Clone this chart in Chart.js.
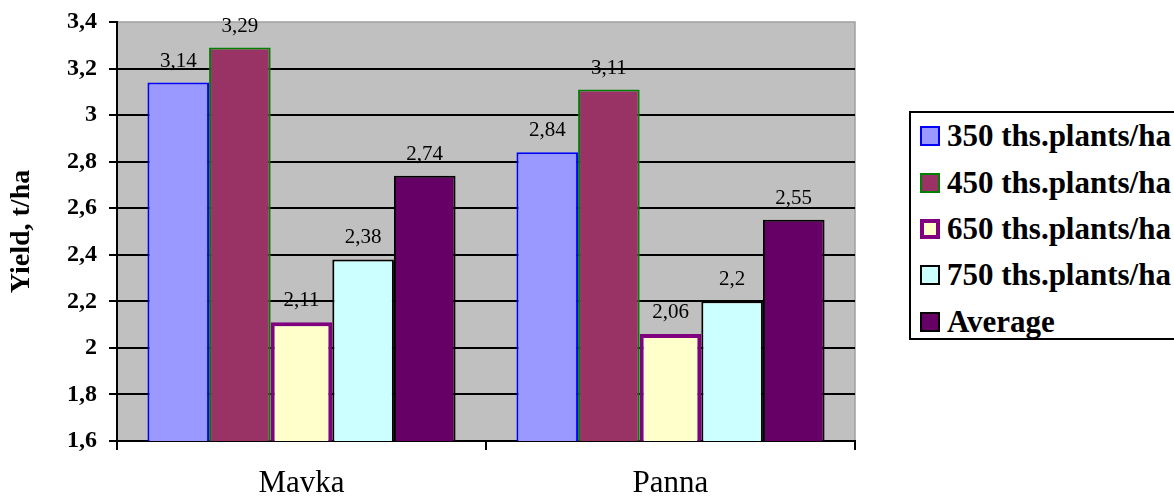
<!DOCTYPE html>
<html>
<head>
<meta charset="utf-8">
<script src="https://cdn.jsdelivr.net/npm/chart.js@4.4.1/dist/chart.umd.min.js"></script>
<style>
  html, body { margin: 0; padding: 0; background: #fff; overflow: hidden; }
  #wrap { position: relative; width: 1174px; height: 502px; }
  #legend {
    position: absolute; left: 909px; top: 111px; width: 300px; height: 229px;
    box-sizing: border-box; border: 2px solid #000; background: #fff;
    font: bold 31px "Liberation Serif", "Times New Roman", Times, "DejaVu Serif", serif; color: #000;
  }
  .row { position: absolute; left: 9px; height: 30px; display: flex; align-items: center; white-space: nowrap; }
  .sw { width: 20px; height: 20px; box-sizing: border-box; margin-right: 7px; }
</style>
</head>
<body>
<div id="wrap">
  <canvas id="chart" width="1174" height="502"></canvas>
  <div id="legend"></div>
</div>
<script>
// data
const varieties = ['Mavka', 'Panna'];
const seriesNames = ['350 ths.plants/ha', '450 ths.plants/ha', '650 ths.plants/ha', '750 ths.plants/ha', 'Average'];
const density350 = [3.14, 2.84];
const density450 = [3.29, 3.11];
const density650 = [2.11, 2.06];
const density750 = [2.38, 2.2];
const average = [2.74, 2.55];
const yMin = 1.6, yMax = 3.4, yStep = 0.2;

// styles
const fills = ['#9999ff', '#993366', '#ffffcc', '#ccffff', '#660066'];
const borders = ['#0000ff', '#008000', '#800080', '#000000', '#000000'];
const borderWidths = [2, 2, 4, 2, 2];

const serif = '"Liberation Serif", "Times New Roman", Times, "DejaVu Serif", serif';
const comma = v => String(Math.round(v * 100) / 100).replace('.', ',');

const values = [density350, density450, density650, density750, average];
const datasets = values.map((data, i) => ({
  label: seriesNames[i],
  data: data,
  backgroundColor: fills[i],
  borderColor: borders[i],
  borderWidth: borderWidths[i],
  borderSkipped: false,
  barPercentage: 1,
  categoryPercentage: 0.835
}));

const plotBg = {
  id: 'plotBg',
  beforeDraw(chart) {
    const { ctx, chartArea: a } = chart;
    ctx.save();
    ctx.fillStyle = '#c0c0c0';
    ctx.fillRect(a.left, a.top, a.right - a.left, a.bottom - a.top);
    ctx.strokeStyle = '#a0a0a0';
    ctx.lineWidth = 1.5;
    ctx.beginPath();
    ctx.moveTo(a.left, a.top);
    ctx.lineTo(a.right, a.top);
    ctx.lineTo(a.right, a.bottom);
    ctx.stroke();
    ctx.restore();
  }
};

const valueLabels = {
  id: 'valueLabels',
  afterDatasetsDraw(chart) {
    const ctx = chart.ctx;
    ctx.save();
    ctx.font = '21px ' + serif;
    ctx.fillStyle = '#000';
    ctx.textAlign = 'center';
    ctx.textBaseline = 'alphabetic';
    chart.data.datasets.forEach((ds, i) => {
      chart.getDatasetMeta(i).data.forEach((bar, j) => {
        ctx.fillText(comma(ds.data[j]), bar.x, bar.y - 16);
      });
    });
    ctx.restore();
  }
};

new Chart(document.getElementById('chart'), {
  type: 'bar',
  data: { labels: varieties, datasets: datasets },
  options: {
    responsive: false,
    animation: false,
    layout: { padding: { left: 0, right: 319, top: 22, bottom: 0 } },
    plugins: { legend: { display: false }, tooltip: { enabled: false } },
    scales: {
      x: {
        afterFit(scale) { scale.height = 61; },
        grid: { offset: true, drawOnChartArea: false, color: '#000', lineWidth: 2, tickLength: 9 },
        border: { color: '#000', width: 2 },
        ticks: { color: '#000', font: { family: serif, size: 31, lineHeight: 1 }, padding: 18 }
      },
      y: {
        min: yMin,
        max: yMax,
        afterFit(scale) { scale.width = 117; },
        grid: {
          color: c => Math.abs(c.tick.value - yMax) < 1e-6 ? 'rgba(0,0,0,0)' : '#000',
          tickColor: '#000',
          lineWidth: 2,
          tickLength: 8
        },
        border: { color: '#000', width: 2 },
        ticks: {
          stepSize: yStep,
          color: '#000',
          padding: 12,
          font: { family: serif, size: 24, weight: 'bold', lineHeight: 0.8 },
          callback: v => comma(v)
        },
        title: {
          display: true,
          text: 'Yield, t/ha',
          color: '#000',
          font: { family: serif, size: 28, weight: 'bold' },
          padding: { top: 5, bottom: 0 }
        }
      }
    }
  },
  plugins: [plotBg, valueLabels]
});

// legend
const legend = document.getElementById('legend');
const rowTops = [8, 55, 101, 147, 194];
seriesNames.forEach((name, i) => {
  const row = document.createElement('div');
  row.className = 'row';
  row.style.top = rowTops[i] + 'px';
  const sw = document.createElement('span');
  sw.className = 'sw';
  sw.style.background = fills[i];
  sw.style.border = borderWidths[i] + 'px solid ' + borders[i];
  row.appendChild(sw);
  row.appendChild(document.createTextNode(name));
  legend.appendChild(row);
});
</script>
</body>
</html>
